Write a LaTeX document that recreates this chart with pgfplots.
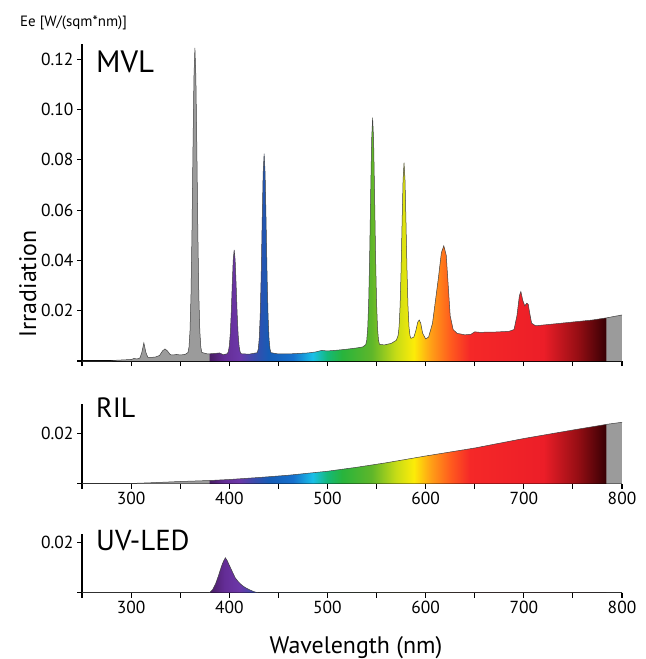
\documentclass[border=0pt]{standalone}
\usepackage{fontspec}
\setmainfont{PT Sans}
\usepackage{pgfplots}
\pgfplotsset{compat=1.18}
\usepackage{pgfplotstable}

\definecolor{sgray}{RGB}{155,155,155}
\definecolor{c380}{RGB}{72,28,100}
\definecolor{c395}{RGB}{100,45,150}
\definecolor{c410}{RGB}{108,55,168}
\definecolor{c425}{RGB}{60,75,172}
\definecolor{c440}{RGB}{22,92,182}
\definecolor{c465}{RGB}{22,112,205}
\definecolor{c485}{RGB}{25,192,232}
\definecolor{c500}{RGB}{20,185,120}
\definecolor{c515}{RGB}{40,180,60}
\definecolor{c545}{RGB}{95,182,42}
\definecolor{c570}{RGB}{200,220,22}
\definecolor{c588}{RGB}{252,236,8}
\definecolor{c605}{RGB}{255,160,22}
\definecolor{c625}{RGB}{255,92,30}
\definecolor{c645}{RGB}{245,40,40}
\definecolor{c720}{RGB}{236,30,40}
\definecolor{c755}{RGB}{150,14,20}
\definecolor{c783}{RGB}{58,0,4}

\pgfdeclarehorizontalshading{spectrum}{100bp}{%
color(0bp)=(sgray); color(36.727bp)=(sgray); color(36.818bp)=(c380);
color(38.182bp)=(c395); color(39.545bp)=(c410); color(40.909bp)=(c425);
color(42.273bp)=(c440); color(44.545bp)=(c465); color(46.364bp)=(c485);
color(47.727bp)=(c500); color(49.091bp)=(c515); color(51.818bp)=(c545);
color(54.091bp)=(c570); color(55.727bp)=(c588); color(57.273bp)=(c605);
color(59.091bp)=(c625); color(60.909bp)=(c645); color(67.727bp)=(c720);
color(70.909bp)=(c755); color(73.455bp)=(c783); color(73.545bp)=(sgray);
color(100bp)=(sgray)}

\pgfplotstableread{
x y
250 0
280 0
285 0.0003
295 0.0005
300 0.0006
303 0.0010
306 0.0008
309 0.0012
311 0.0035
313 0.0072
315 0.0035
317 0.0015
320 0.0014
325 0.0016
329 0.0022
332 0.0040
334.5 0.0048
337 0.0040
340 0.0025
343 0.0024
346 0.0026
350 0.0024
355 0.0026
358 0.0034
359 0.0056
360 0.0120
361 0.0261
362 0.0509
363 0.0835
364 0.1127
365 0.1245
366 0.1127
367 0.0835
368 0.0509
369 0.0261
370 0.0120
371 0.0056
372 0.0034
378 0.0028
385 0.0030
390 0.0032
394 0.0025
398 0.0029
399 0.0037
400 0.0059
401 0.0107
402 0.0191
403 0.0302
404 0.0401
405 0.0442
406 0.0401
407 0.0302
408 0.0191
409 0.0107
410 0.0059
411 0.0037
412 0.0029
420 0.0027
428.5 0.0033
429.5 0.0047
430.5 0.0088
431.5 0.0181
432.5 0.0342
433.5 0.0555
434.5 0.0746
435.5 0.0824
436.5 0.0746
437.5 0.0555
438.5 0.0342
439.5 0.0181
440.5 0.0088
441.5 0.0047
442.5 0.0033
450 0.0028
460 0.0028
470 0.0030
480 0.0032
488 0.0036
494 0.0042
500 0.0040
510 0.0043
520 0.0047
530 0.0052
536 0.0056
539 0.0065
540 0.0082
541 0.0129
542 0.0235
543 0.0419
544 0.0662
545 0.0880
546 0.0967
547 0.0880
548 0.0662
549 0.0419
550 0.0235
551 0.0129
552 0.0082
553 0.0066
558 0.0064
565 0.0070
570 0.0082
571 0.0091
572 0.0102
573 0.0138
574 0.0220
575 0.0363
576 0.0550
577 0.0719
578 0.0788
579 0.0719
580 0.0550
581 0.0363
582 0.0220
583 0.0138
584 0.0102
585 0.0090
588 0.0095
590 0.0120
592 0.0155
593.5 0.0163
595 0.0150
597 0.0110
600 0.0088
603 0.0095
607 0.0150
610 0.0240
613 0.0330
616 0.0430
618.5 0.0458
621 0.0420
623 0.0300
625 0.0180
628 0.0125
632 0.0110
640 0.0104
646 0.0106
650 0.0116
655 0.0114
670 0.0115
685 0.0118
690 0.0125
693 0.0180
695.5 0.0260
697 0.0276
699 0.0240
701 0.0219
703 0.0230
704.5 0.0225
706 0.0190
708 0.0150
712 0.0140
730 0.0147
750 0.0155
770 0.0163
785 0.0172
800 0.0183
}\mvl

\pgfplotstableread{
x y
250 0
299 0
320 0.0003
350 0.0008
380 0.0012
400 0.0016
430 0.0024
460 0.0033
500 0.0049
530 0.0065
560 0.0083
600 0.0110
650 0.0142
700 0.0180
750 0.0214
785 0.0237
800 0.0245
}\ril

\pgfplotstableread{
x y
250 0
380 0
383 0.0012
386 0.0035
389 0.0068
392 0.0105
394 0.0125
396 0.0140
398 0.0128
400 0.0110
403 0.0085
406 0.0060
409 0.0045
412 0.0033
415 0.0024
418 0.0017
421 0.0011
424 0.0006
427 0.0002
430 0
800 0
}\uvled

\pgfplotsset{spec/.style={
  scale only axis, width=540bp, anchor=south west,
  xmin=250, xmax=800, ymin=0,
  axis lines=left,
  axis line style={-, line width=1.3bp, black},
  tick align=outside, major tick length=5bp,
  tick style={line width=1.1bp, black},
  scaled ticks=false,
  xtick={250,300,350,400,450,500,550,600,650,700,750,800},
  ticklabel style={font=\fontsize{17.5}{17.5}\selectfont},
  ytick={0,0.02},
}}
\tikzset{specfill/.style={draw=none, shade, shading=spectrum, shading angle=0},
         specline/.style={black!75, line width=0.5bp}}

\begin{document}
\begin{tikzpicture}
\path[use as bounding box] (0,0) rectangle (646bp,-659bp);

\begin{axis}[spec, at={(82bp,-361bp)}, height=317bp, ymax=0.126,
  ytick={0,0.02,0.04,0.06,0.08,0.10,0.12},
  yticklabels={,0.02,0.04,0.06,0.08,0.10,0.12},
  xticklabels={{},{},{},{},{},{},{},{},{},{},{},{}}]
\addplot[specfill] table {\mvl} \closedcycle;
\addplot[specline] table {\mvl};
\end{axis}

\begin{axis}[spec, at={(82bp,-483.5bp)}, height=79.5bp, ymax=0.0318,
  xticklabels={,300,,400,,500,,600,,700,,800}, yticklabels={,0.02}]
\addplot[specfill] table {\ril} \closedcycle;
\addplot[specline] table {\ril};
\end{axis}

\begin{axis}[spec, at={(82bp,-592.7bp)}, height=58.7bp, ymax=0.0235,
  xticklabels={,300,,400,,500,,600,,700,,800}, yticklabels={,0.02}]
\addplot[specfill] table {\uvled} \closedcycle;
\addplot[specline] table {\uvled};
\end{axis}

\node[anchor=base west, font=\fontsize{31}{31}\selectfont, inner sep=0] at (96bp,-72bp) {MVL};
\node[anchor=base west, font=\fontsize{28}{28}\selectfont, inner sep=0] at (96bp,-417bp) {RIL};
\node[anchor=base west, font=\fontsize{29}{29}\selectfont, inner sep=0] at (96bp,-550bp) {UV-LED};
\node[anchor=base west, font=\fontsize{15}{15}\selectfont, inner sep=0] at (20bp,-26bp) {Ee [W/(sqm*nm)]};
\node[rotate=90, anchor=base, font=\fontsize{24}{24}\selectfont, inner sep=0] at (36bp,-284bp) {Irradiation};
\node[anchor=base, font=\fontsize{24}{24}\selectfont, inner sep=0] at (356bp,-653bp) {Wavelength (nm)};
\end{tikzpicture}
\end{document}
